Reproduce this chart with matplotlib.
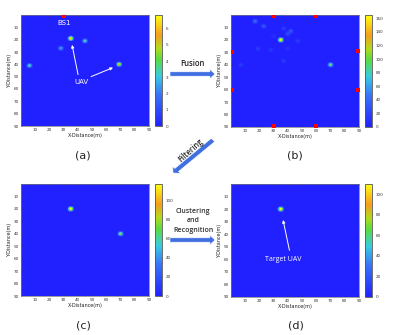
import numpy as np
import matplotlib
matplotlib.use("Agg")
import matplotlib.pyplot as plt
from matplotlib.colors import LinearSegmentedColormap
from matplotlib.patches import FancyArrow

# ---------------- data ----------------
GRID_N = 90
ticks = [10, 20, 30, 40, 50, 60, 70, 80, 90]

# panel (a): single base station echo map
a_x = [35, 45, 28, 6, 69]
a_y = [19, 21, 27, 41, 40]
a_v = [6.85, 3.3, 2.5, 3.4, 5.5]
a_bs_x = [30]
a_bs_y = [0.8]
a_cticks = [0, 1, 2, 3, 4, 5, 6]

# panel (b): fused map
b_x = [35, 70, 17, 23, 37, 42, 40, 30, 47, 19, 28, 40, 7, 37]
b_y = [20, 40, 5, 9, 11, 13, 15, 17, 21, 27, 28, 27, 40, 37]
b_v = [165, 95, 40, 30, 15, 30, 25, 10, 15, 15, 12, 10, 15, 15]
b_bs_x = [30, 60, 0.6, 89.4, 0.6, 89.4, 30, 60]
b_bs_y = [0.8, 0.8, 30, 29, 60, 60, 89.2, 89.2]
b_cticks = [0, 20, 40, 60, 80, 100, 120, 140, 160]

# panel (c): filtered map
c_x = [35, 70]
c_y = [20, 40]
c_v = [117, 75]
c_cticks = [0, 20, 40, 60, 80, 100]

# panel (d): recognised target
d_x = [35]
d_y = [20]
d_v = [110]
d_cticks = [0, 20, 40, 60, 80, 100]

labels = ["(a)", "(b)", "(c)", "(d)"]

# ---------------- style ----------------
W, H = 397, 335
KERNEL = np.array([[0.15, 0.45, 0.45, 0.15],
                   [0.45, 1.00, 1.00, 0.45],
                   [0.45, 1.00, 0.85, 0.45],
                   [0.15, 0.45, 0.45, 0.15]])

cmap = LinearSegmentedColormap.from_list("uav", [
    (0.00, (0.13, 0.13, 1.00)),
    (0.28, (0.22, 0.45, 0.98)),
    (0.45, (0.22, 0.80, 0.88)),
    (0.60, (0.35, 0.86, 0.25)),
    (0.70, (0.70, 0.86, 0.10)),
    (0.82, (0.96, 0.62, 0.12)),
    (1.00, (1.00, 1.00, 0.05)),
])


def make_grid(xs, ys, vs):
    g = np.zeros((GRID_N, GRID_N))
    k = KERNEL.shape[0]
    for x, y, v in zip(xs, ys, vs):
        for di in range(k):
            for dj in range(k):
                i, j = int(y) - 1 + di - 1, int(x) - 1 + dj - 1
                if 0 <= i < GRID_N and 0 <= j < GRID_N:
                    g[i, j] = max(g[i, j], v * KERNEL[di, dj])
    return g


def px_rect(x0, y0, x1, y1):
    return [x0 / W, 1 - y1 / H, (x1 - x0) / W, (y1 - y0) / H]


fig = plt.figure(figsize=(W / 100, H / 100), dpi=100)
fig.patch.set_facecolor("white")

panels = [
    (a_x, a_y, a_v, a_bs_x, a_bs_y, a_cticks, (21, 15, 149, 126), (155, 15, 162, 126)),
    (b_x, b_y, b_v, b_bs_x, b_bs_y, b_cticks, (231, 15, 359, 127), (365, 15, 372, 127)),
    (c_x, c_y, c_v, [], [], c_cticks, (21, 184, 149, 296), (155, 184, 162, 296)),
    (d_x, d_y, d_v, [], [], d_cticks, (231, 184, 359, 297), (365, 184, 372, 297)),
]

axes = []
for xs, ys, vs, bx, by, cticks, r, cr in panels:
    ax = fig.add_axes(px_rect(*r))
    g = make_grid(xs, ys, vs)
    im = ax.imshow(g, cmap=cmap, vmin=0, vmax=max(vs), extent=(0, 90, 90, 0),
                   interpolation="bilinear", interpolation_stage="data",
                   aspect="auto")
    if bx:
        ax.scatter(bx, by, marker="s", s=6, color="red", zorder=5, linewidths=0)
    ax.set_xlim(0, 90)
    ax.set_ylim(90, 0)
    ax.set_xticks(ticks)
    ax.set_yticks(ticks)
    ax.tick_params(labelsize=3, length=1.2, width=0.3, direction="in", pad=1.5,
                   colors="#333333", top=True, right=True)
    ax.tick_params(labeltop=False, labelright=False)
    for s in ax.spines.values():
        s.set_linewidth(0.5)
        s.set_color("#777777")
    ax.set_xlabel("X-Distance(m)", fontsize=3.5, labelpad=1, color="#222222")
    ax.set_ylabel("Y-Distance(m)", fontsize=3.5, labelpad=1.5, color="#222222")
    cax = fig.add_axes(px_rect(*cr))
    cb = fig.colorbar(im, cax=cax)
    cb.set_ticks(cticks)
    cb.ax.tick_params(labelsize=3, length=1, width=0.3, pad=1.5, colors="#333333")
    cb.outline.set_linewidth(0.6)
    cb.outline.set_edgecolor("#555555")
    axes.append(ax)

ax_a, ax_b, ax_c, ax_d = axes

# annotations in panel (a)
ax_a.text(30, 6.5, "BS1", color="white", fontsize=5, ha="center", va="center",
          family="DejaVu Sans")
ax_a.text(42.5, 54, "UAV", color="white", fontsize=5, ha="center", va="center")
ax_a.annotate("", xy=(35.5, 22), xytext=(40.5, 50.5),
              arrowprops=dict(arrowstyle="-|>", color="white", lw=0.7,
                              mutation_scale=4))
ax_a.annotate("", xy=(66.5, 41.8), xytext=(47.5, 50.8),
              arrowprops=dict(arrowstyle="-|>", color="white", lw=0.7,
                              mutation_scale=4))

# annotation in panel (d)
ax_d.text(37, 60.5, "Target UAV", color="white", fontsize=5, ha="center",
          va="center", family="Open Sans")
ax_d.annotate("", xy=(36.2, 26.5), xytext=(41.5, 55),
              arrowprops=dict(arrowstyle="-|>", color="white", lw=0.7,
                              mutation_scale=4))

# panel labels
for lab, (x, y) in zip(labels, [(83, 155), (295, 155), (83, 325), (296, 325)]):
    fig.text(x / W, 1 - y / H, lab, fontsize=8, ha="center", va="center",
             color="#222222", family="DejaVu Sans")

# process arrows (figure pixel coords)
def big_arrow(x0, y0, x1, y1):
    dx = (x1 - x0) / W
    dy = -(y1 - y0) / H
    fig.patches.append(FancyArrow(x0 / W, 1 - y0 / H, dx, dy, width=0.013,
                                  head_width=0.028, head_length=0.013,
                                  length_includes_head=True,
                                  facecolor="#3f6fe0", edgecolor="white",
                                  linewidth=0.4, transform=fig.transFigure,
                                  figure=fig))


big_arrow(170, 74, 215, 74)
big_arrow(213, 140, 173, 173)
big_arrow(170, 240, 215, 240)

fig.text(192 / W, 1 - 64 / H, "Fusion", fontsize=5.5, ha="center", va="center",
         family="Open Sans", weight="semibold", color="#222222")
fig.text(191 / W, 1 - 150 / H, "Filtering", fontsize=5.5, ha="center",
         va="center", rotation=42, family="Open Sans", weight="semibold",
         color="#222222")
fig.text(193 / W, 1 - 221 / H, "Clustering\nand\nRecognition", fontsize=5,
         ha="center", va="center", family="Open Sans", weight="semibold",
         color="#333333", linespacing=1.5)

fig.savefig("out.png", dpi=100, facecolor="white")
